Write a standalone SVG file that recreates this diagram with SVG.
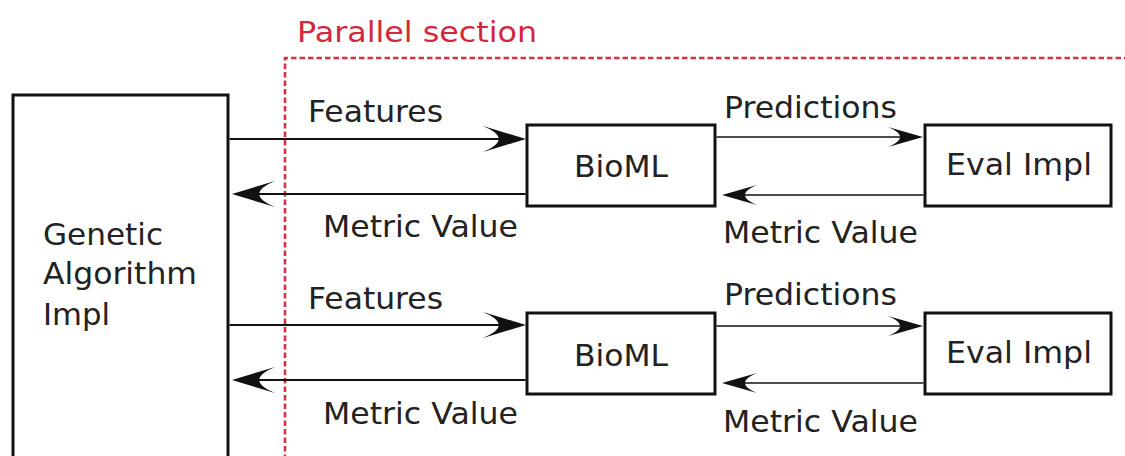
<svg xmlns="http://www.w3.org/2000/svg" width="1125" height="456" viewBox="0 0 1125 456">
  <style>
    .box { fill: #ffffff; stroke: #111111; stroke-width: 3; }
    .lbl { font-family: "DejaVu Sans", "Liberation Sans", sans-serif; font-size: 30px; fill: #222222; }
    .red { font-family: "DejaVu Sans", "Liberation Sans", sans-serif; font-size: 29px; fill: #d3283c; }
    .wire { fill: none; stroke: #111111; stroke-width: 2; }
    .thin { fill: none; stroke: #111111; stroke-width: 1.6; }
    .section { fill: none; stroke: #d8304a; stroke-width: 2.6; stroke-dasharray: 5.5 3; }
  </style>
  <defs>
    <marker id="headL" markerUnits="userSpaceOnUse" orient="auto" refX="-26" refY="0" markerWidth="1" markerHeight="1" overflow="visible">
      <path d="M0,0 L-43,-13 C-22,-4 -22,4 -43,13 Z" fill="#111111"/>
    </marker>
    <marker id="headS" markerUnits="userSpaceOnUse" orient="auto" refX="-21" refY="0" markerWidth="1" markerHeight="1" overflow="visible">
      <path d="M0,0 L-35,-10 C-19,-3 -19,3 -35,10 Z" fill="#111111"/>
    </marker>
  </defs>

  <rect width="1125" height="456" fill="#ffffff"/>

  <!-- parallel region outline and caption -->
  <g id="parallel-section">
    <path class="section" d="M285,460 V58 H1125"/>
    <text class="red" x="297" y="42" textLength="240" lengthAdjust="spacingAndGlyphs">Parallel section</text>
  </g>

  <g id="genetic">
    <rect class="box" x="13" y="95" width="215" height="400"/>
    <text class="lbl" x="43" y="245" textLength="120" lengthAdjust="spacingAndGlyphs">Genetic</text>
    <text class="lbl" x="43" y="284" textLength="154" lengthAdjust="spacingAndGlyphs">Algorithm</text>
    <text class="lbl" x="43" y="325" textLength="67" lengthAdjust="spacingAndGlyphs">Impl</text>
  </g>

  <g id="bioml-1">
    <rect class="box" x="527" y="125" width="188" height="81"/>
    <text class="lbl" x="574" y="177" textLength="94" lengthAdjust="spacingAndGlyphs">BioML</text>
  </g>
  <g id="eval-1">
    <rect class="box" x="925" y="125" width="186" height="81"/>
    <text class="lbl" x="946" y="175" textLength="146" lengthAdjust="spacingAndGlyphs">Eval Impl</text>
  </g>
  <g id="bioml-2">
    <rect class="box" x="527" y="313" width="188" height="81"/>
    <text class="lbl" x="574" y="366" textLength="94" lengthAdjust="spacingAndGlyphs">BioML</text>
  </g>
  <g id="eval-2">
    <rect class="box" x="925" y="313" width="186" height="81"/>
    <text class="lbl" x="946" y="363" textLength="146" lengthAdjust="spacingAndGlyphs">Eval Impl</text>
  </g>

  <g id="connectors">
    <!-- first worker -->
    <path class="wire" d="M229.5,139 H500" marker-end="url(#headL)"/>
    <path class="wire" d="M525.5,194 H258" marker-end="url(#headL)"/>
    <path class="thin" d="M716.5,137 H902" marker-end="url(#headS)"/>
    <path class="thin" d="M923.5,195 H743" marker-end="url(#headS)"/>
    <!-- second worker -->
    <path class="wire" d="M229.5,325 H500" marker-end="url(#headL)"/>
    <path class="wire" d="M525.5,380 H258" marker-end="url(#headL)"/>
    <path class="thin" d="M716.5,326 H902" marker-end="url(#headS)"/>
    <path class="thin" d="M923.5,383 H743" marker-end="url(#headS)"/>

    <text class="lbl" x="308" y="122" textLength="135" lengthAdjust="spacingAndGlyphs">Features</text>
    <text class="lbl" x="323" y="237" textLength="195" lengthAdjust="spacingAndGlyphs">Metric Value</text>
    <text class="lbl" x="724" y="118" textLength="173" lengthAdjust="spacingAndGlyphs">Predictions</text>
    <text class="lbl" x="723" y="243" textLength="195" lengthAdjust="spacingAndGlyphs">Metric Value</text>

    <text class="lbl" x="308" y="309" textLength="135" lengthAdjust="spacingAndGlyphs">Features</text>
    <text class="lbl" x="323" y="424" textLength="195" lengthAdjust="spacingAndGlyphs">Metric Value</text>
    <text class="lbl" x="724" y="305" textLength="173" lengthAdjust="spacingAndGlyphs">Predictions</text>
    <text class="lbl" x="723" y="432" textLength="195" lengthAdjust="spacingAndGlyphs">Metric Value</text>
  </g>
</svg>
